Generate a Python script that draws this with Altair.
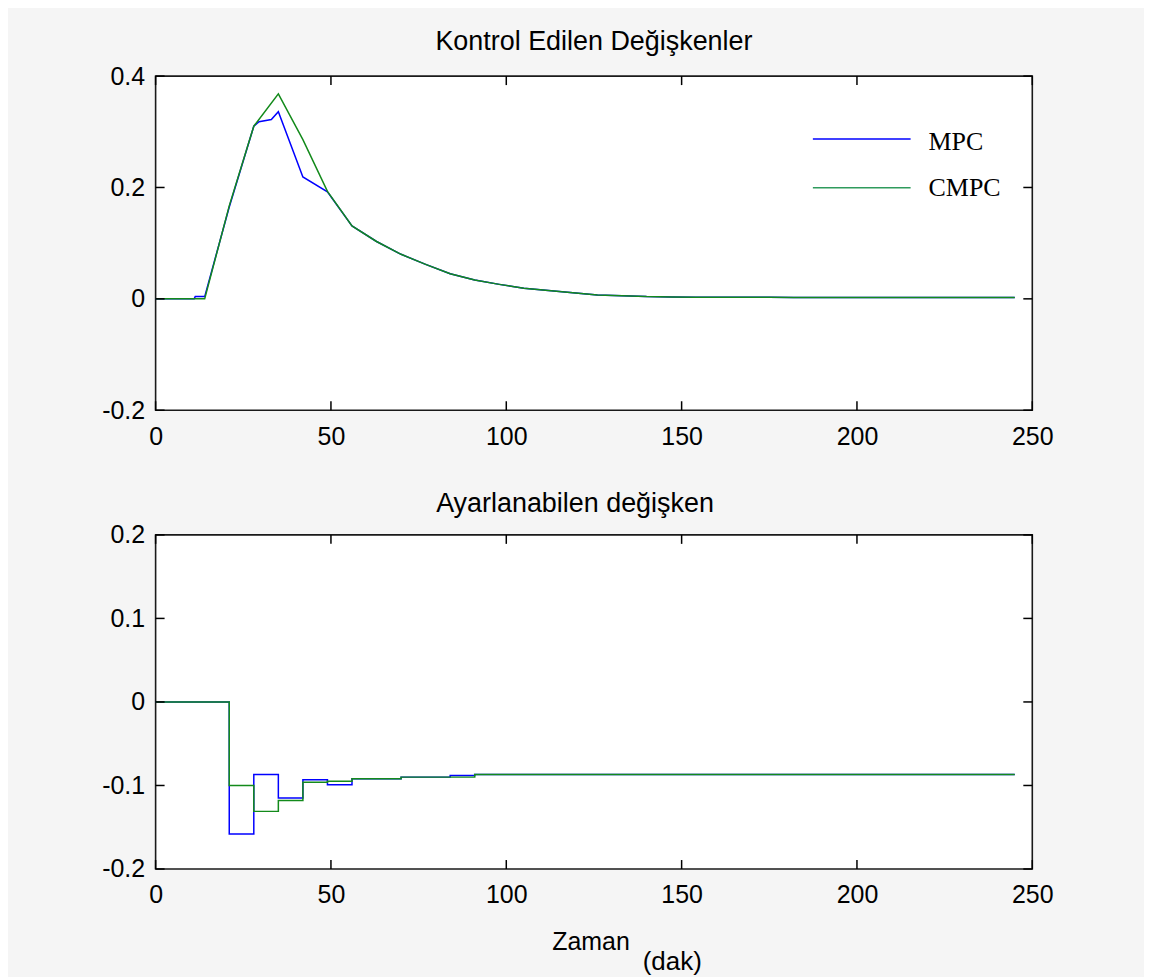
import altair as alt
import pandas as pd

# ---------------- data ----------------
# Top panel: controlled variable (linear interpolation)
top_t_mpc = [0, 11, 11.3, 14, 21, 28, 29.5, 33, 35, 42, 49, 56]
top_y_mpc = [0, 0, 0.004, 0.004, 0.165, 0.310, 0.318, 0.322, 0.336, 0.219, 0.192, 0.131]
top_t_cmpc = [0, 14, 21, 28, 35, 42, 49, 56]
top_y_cmpc = [0, 0, 0.167, 0.310, 0.368, 0.286, 0.193, 0.131]
# common tail (both controllers coincide)
tail_t = [63, 70, 77, 84, 91, 98, 105, 112, 119, 126, 133, 140, 147, 154, 161,
          168, 175, 182, 189, 196, 203, 210, 217, 224, 231, 238, 245]
tail_y = [0.103, 0.080, 0.062, 0.045, 0.034, 0.026, 0.019, 0.015, 0.011, 0.007,
          0.0055, 0.004, 0.0035, 0.003, 0.003, 0.0028, 0.0027, 0.0026, 0.0025,
          0.0025, 0.0024, 0.0024, 0.0023, 0.0023, 0.0023, 0.0022, 0.0022]

# Bottom panel: manipulated variable (zero-order hold, 7 min sampling)
u_t = [0, 7, 14, 21, 28, 35, 42, 49, 56, 63, 70, 77, 84, 91, 98, 105, 112, 119,
       126, 133, 140, 147, 154, 161, 168, 175, 182, 189, 196, 203, 210, 217, 224,
       231, 238, 245]
u_mpc = [0, 0, 0, -0.158, -0.087, -0.115, -0.093, -0.099, -0.092, -0.092, -0.090,
         -0.090, -0.088, -0.087, -0.087, -0.087, -0.087, -0.087, -0.087, -0.087,
         -0.087, -0.087, -0.087, -0.087, -0.087, -0.087, -0.087, -0.087, -0.087,
         -0.087, -0.087, -0.087, -0.087, -0.087, -0.087, -0.087]
u_cmpc = [0, 0, 0, -0.100, -0.131, -0.118, -0.096, -0.095, -0.092, -0.092, -0.090,
          -0.090, -0.090, -0.087, -0.087, -0.087, -0.087, -0.087, -0.087, -0.087,
          -0.087, -0.087, -0.087, -0.087, -0.087, -0.087, -0.087, -0.087, -0.087,
          -0.087, -0.087, -0.087, -0.087, -0.087, -0.087, -0.087]

x_ticks = [0, 50, 100, 150, 200, 250]
top_y_ticks = [-0.2, 0, 0.2, 0.4]
bot_y_ticks = [-0.2, -0.1, 0, 0.1, 0.2]
series_names = ["MPC", "CMPC"]

top_title = "Kontrol Edilen Değişkenler"
bot_title = "Ayarlanabilen değişken"
x_title = "Zaman"
x_unit = "(dak)"

# ---------------- styling ----------------
W, H = 879, 335
BLUE = "#0000ff"
GREEN = "#138a1b"
LEG_GREEN = "#2f9b5d"
SANS = "Liberation Sans, Arial, sans-serif"
SERIF = "Liberation Serif, Times New Roman, serif"
TICK = 9
BG = "#f5f5f5"
LABEL_EXPR = ("datum.value == 0 ? '0' : (datum.value < 0 ? '-' + format(-datum.value, '.1f')"
              " : format(datum.value, '.1f'))")

df_top_mpc = pd.DataFrame({"t": top_t_mpc + tail_t, "y": top_y_mpc + tail_y})
df_top_cmpc = pd.DataFrame({"t": top_t_cmpc + tail_t, "y": top_y_cmpc + tail_y})
df_u_mpc = pd.DataFrame({"t": u_t, "y": u_mpc})
df_u_cmpc = pd.DataFrame({"t": u_t, "y": u_cmpc})
df_xt = pd.DataFrame({"v": x_ticks})


def x_axis(**kw):
    base = dict(values=x_ticks, labelFont=SANS, labelFontSize=25, labelColor="black",
                labelPadding=14, tickSize=0, domain=False, grid=False,
                minExtent=45, maxExtent=45, labelFlush=False)
    base.update(kw)
    if "title" not in base:
        base["title"] = None
    return alt.Axis(**base)


def y_axis(vals):
    return alt.Axis(values=vals, labelFont=SANS, labelFontSize=25, labelColor="black",
                    labelPadding=11, tickSize=0, domain=False, grid=False,
                    minExtent=147, maxExtent=147, title=None, labelExpr=LABEL_EXPR)


def panel(df_b, df_g, ydom, yvals, interp, extra=None, xa=None):
    xs = alt.Scale(domain=[0, 250], nice=False, zero=False)
    ys = alt.Scale(domain=ydom, nice=False, zero=False)
    blue = alt.Chart(df_b).mark_line(color=BLUE, strokeWidth=1.5, interpolate=interp, clip=True).encode(
        x=alt.X("t:Q", scale=xs, axis=xa if xa is not None else x_axis()),
        y=alt.Y("y:Q", scale=ys, axis=y_axis(yvals)),
    )
    green = alt.Chart(df_g).mark_line(color=GREEN, strokeWidth=1.5, interpolate=interp, clip=True).encode(
        x=alt.X("t:Q"), y=alt.Y("y:Q"))
    ytl = pd.DataFrame({"v": yvals})
    tl = alt.Chart(ytl).mark_rule(color="black", strokeWidth=1.5).encode(
        y=alt.Y("v:Q"), x=alt.value(0), x2=alt.value(TICK))
    tr = alt.Chart(ytl).mark_rule(color="black", strokeWidth=1.5).encode(
        y=alt.Y("v:Q"), x=alt.value(W - TICK), x2=alt.value(W))
    tb = alt.Chart(df_xt).mark_rule(color="black", strokeWidth=1.5).encode(
        x=alt.X("v:Q"), y=alt.value(H - TICK), y2=alt.value(H))
    tt = alt.Chart(df_xt).mark_rule(color="black", strokeWidth=1.5).encode(
        x=alt.X("v:Q"), y=alt.value(0), y2=alt.value(TICK))
    layers = [blue, green, tl, tr, tb, tt]
    if extra:
        layers += extra
    return alt.layer(*layers).properties(width=W, height=H)


# legend (manual, MATLAB style, no frame)
leg = [
    alt.Chart(pd.DataFrame({"n": [series_names[0]]})).mark_rule(color=BLUE, strokeWidth=1.5).encode(
        x=alt.value(659), x2=alt.value(757), y=alt.value(63)),
    alt.Chart(pd.DataFrame({"n": [series_names[1]]})).mark_rule(color=LEG_GREEN, strokeWidth=1.5).encode(
        x=alt.value(659), x2=alt.value(757), y=alt.value(112)),
    alt.Chart(pd.DataFrame({"n": [series_names[0]]})).mark_text(
        font=SERIF, fontSize=26, align="left", baseline="alphabetic", color="black").encode(
        text="n:N", x=alt.value(775), y=alt.value(74)),
    alt.Chart(pd.DataFrame({"n": [series_names[1]]})).mark_text(
        font=SERIF, fontSize=26, align="left", baseline="alphabetic", color="black").encode(
        text="n:N", x=alt.value(775), y=alt.value(120)),
]

top = panel(df_top_mpc, df_top_cmpc, [-0.2, 0.4], top_y_ticks, "linear", extra=leg).properties(
    title=alt.TitleParams(top_title, font=SANS, fontSize=27, fontWeight="normal", color="black",
                          anchor="middle", frame="group", offset=8))

unit = alt.Chart(pd.DataFrame({"n": [x_unit]})).mark_text(
    font=SANS, fontSize=26, align="center", baseline="alphabetic", color="black").encode(
    text="n:N", x=alt.value(518), y=alt.value(H + 101))

bot_xa = x_axis(title=x_title, titleFont=SANS, titleFontSize=25, titleFontWeight="normal",
                titleColor="black", titleY=61, titleBaseline="top", titleX=436)

bot = panel(df_u_mpc, df_u_cmpc, [-0.2, 0.2], bot_y_ticks, "step-after", extra=[unit], xa=bot_xa).properties(
    title=alt.TitleParams(bot_title, font=SANS, fontSize=27, fontWeight="normal", color="black",
                          anchor="middle", frame="group", offset=5, dx=-19))

chart = alt.vconcat(top, bot, spacing=33).properties(
    background=BG, padding={"left": 0, "top": 18, "right": 90, "bottom": 2}
).configure_view(fill="white", stroke="#1a1a1a", strokeWidth=1.6)

chart.save("out.html", embed_options={"renderer": "svg", "actions": False})
